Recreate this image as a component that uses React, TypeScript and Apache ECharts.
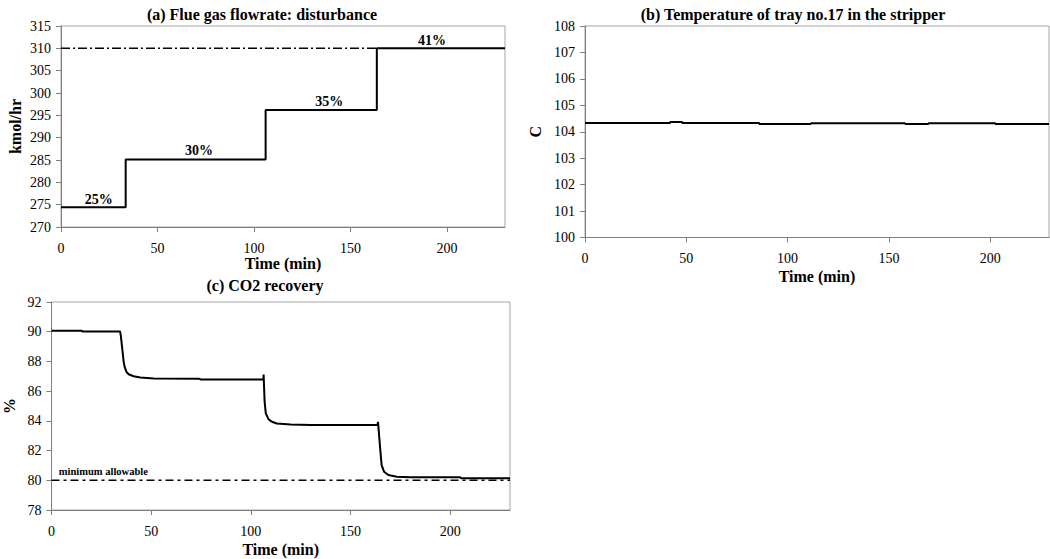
import React, { useEffect, useRef } from "react";
import * as echarts from "echarts";

// (a) Flue gas flowrate disturbance (step profile)
const flowTime = [0, 33.5, 106, 163.6, 230];
const flowRate = [274.4, 285.1, 296.2, 310, 310];
const flowLimit = 310;
const flowLimitEnd = 164;
const stepLabels = ["25%", "30%", "35%", "41%"];
const stepLabelX = [19.5, 71.5, 139, 192.2];
const stepLabelY = [276.2, 287.2, 298.1, 311.8];

// (b) Temperature of tray no.17
const tempTime = [0, 42, 48, 86, 111.5, 158, 169.5, 202.5, 229];
const tempVal = [104.33, 104.37, 104.33, 104.29, 104.32, 104.29, 104.32, 104.29, 104.29];

// (c) CO2 recovery
const co2Time = [
  0, 15, 15.5, 34.4, 34.8, 35.4, 36.2, 36.7, 37.6, 38.7, 41.2, 44.6, 51.3, 74, 75, 106.3,
  106.4, 106.9, 107.5, 108.9, 110.6, 113, 120, 130, 163.5, 163.8, 164.8, 165.6, 166.8,
  169, 173.2, 180, 205, 205.5, 230,
];
const co2Val = [
  90.07, 90.07, 90.02, 90.02, 89.7, 88.97, 87.97, 87.63, 87.3, 87.14, 87.0, 86.92, 86.85,
  86.84, 86.78, 86.78, 87.12, 85.3, 84.5, 84.1, 83.94, 83.82, 83.76, 83.72, 83.72, 83.93,
  82.25, 81.02, 80.58, 80.35, 80.24, 80.2, 80.2, 80.14, 80.14,
];
const minAllowable = 80;
const minLabel = "minimum allowable";
const minLabelX = 26;
const minLabelY = 80.62;

const FONT = "Liberation Serif";
const AXIS_GRAY = "#7f7f7f";

function xAxisCfg(gridIndex: number, max: number, nameGap: number) {
  return {
    type: "value",
    gridIndex,
    min: 0,
    max,
    interval: 50,
    name: "Time (min)",
    nameLocation: "middle",
    nameGap,
    nameTextStyle: { fontFamily: FONT, fontWeight: "bold", fontSize: 16, color: "#000" },
    axisLine: { show: true, lineStyle: { color: AXIS_GRAY, width: 1 } },
    axisTick: { show: true, length: 5, lineStyle: { color: AXIS_GRAY } },
    axisLabel: { fontFamily: FONT, fontSize: 14, color: "#000", margin: 14, showMaxLabel: false },
    splitLine: { show: false },
  };
}

function yAxisCfg(
  gridIndex: number,
  min: number,
  max: number,
  interval: number,
  name: string,
  nameGap: number
) {
  return {
    type: "value",
    gridIndex,
    min,
    max,
    interval,
    name,
    nameLocation: "middle",
    nameGap,
    nameTextStyle: { fontFamily: FONT, fontWeight: "bold", fontSize: 16, color: "#000" },
    axisLine: { show: true, lineStyle: { color: AXIS_GRAY, width: 1 } },
    axisTick: { show: true, length: 5, lineStyle: { color: AXIS_GRAY } },
    axisLabel: { fontFamily: FONT, fontSize: 14, color: "#000", margin: 10 },
    splitLine: { show: false },
  };
}

function titleText(text: string, x: number, y: number) {
  return {
    type: "text",
    x,
    y,
    style: {
      text,
      fontFamily: FONT,
      fontWeight: "bold",
      fontSize: 16,
      fill: "#000",
      align: "center",
      verticalAlign: "middle",
    },
  };
}

export default function App() {
  const ref = useRef<HTMLDivElement>(null);

  useEffect(() => {
    if (!ref.current) return;
    const chart = echarts.init(ref.current, undefined, { renderer: "svg" });

    const flowData = flowTime.map((t, i) => [t, flowRate[i]]);
    const tempData = tempTime.map((t, i) => [t, tempVal[i]]);
    const co2Data = co2Time.map((t, i) => [t, co2Val[i]]);
    const labelData = stepLabels.map((n, i) => ({ name: n, value: [stepLabelX[i], stepLabelY[i]] }));

    const labelCfg = (size: number) => ({
      show: true,
      position: "inside",
      formatter: (p: any) => p.name,
      fontFamily: FONT,
      fontWeight: "bold",
      fontSize: size,
      color: "#000",
      opacity: 1,
      textBorderWidth: 0,
    });

    const option = {
      animation: false,
      backgroundColor: "#fff",
      textStyle: { fontFamily: FONT },
      grid: [
        { left: 61, top: 26, width: 444, height: 201, show: true, borderColor: "#a6a6a6", borderWidth: 1 },
        { left: 585, top: 26, width: 464, height: 211.5, show: true, borderColor: "#a6a6a6", borderWidth: 1 },
        { left: 51.5, top: 302, width: 458.5, height: 208, show: true, borderColor: "#a6a6a6", borderWidth: 1 },
      ],
      xAxis: [xAxisCfg(0, 230, 28), xAxisCfg(1, 229, 31), xAxisCfg(2, 230, 31)],
      yAxis: [
        yAxisCfg(0, 270, 315, 5, "kmol/hr", 38),
        yAxisCfg(1, 100, 108, 1, "C", 42),
        yAxisCfg(2, 78, 92, 2, "%", 34),
      ],
      graphic: [
        titleText("(a) Flue gas flowrate: disturbance", 262, 14),
        titleText("(b) Temperature of tray no.17 in the stripper", 793, 14),
        titleText("(c) CO2 recovery", 265, 285),
      ],
      series: [
        {
          type: "line",
          xAxisIndex: 0,
          yAxisIndex: 0,
          data: [
            [0, flowLimit],
            [flowLimitEnd, flowLimit],
          ],
          symbol: "none",
          lineStyle: { color: "#000", width: 1.5, type: [9, 3, 2, 3] },
          z: 1,
        },
        {
          type: "line",
          xAxisIndex: 0,
          yAxisIndex: 0,
          data: flowData,
          step: "end",
          symbol: "none",
          lineStyle: { color: "#000", width: 2 },
          z: 2,
        },
        {
          type: "scatter",
          xAxisIndex: 0,
          yAxisIndex: 0,
          data: labelData,
          symbolSize: 1,
          itemStyle: { color: "transparent", opacity: 1 },
          label: labelCfg(14),
        },
        {
          type: "line",
          xAxisIndex: 1,
          yAxisIndex: 1,
          data: tempData,
          step: "end",
          symbol: "none",
          lineStyle: { color: "#000", width: 2 },
        },
        {
          type: "line",
          xAxisIndex: 2,
          yAxisIndex: 2,
          data: [
            [0, minAllowable],
            [230, minAllowable],
          ],
          symbol: "none",
          lineStyle: { color: "#000", width: 1.5, type: [8, 4, 3, 4] },
          z: 1,
        },
        {
          type: "line",
          xAxisIndex: 2,
          yAxisIndex: 2,
          data: co2Data,
          symbol: "none",
          lineStyle: { color: "#000", width: 2 },
          z: 2,
        },
        {
          type: "scatter",
          xAxisIndex: 2,
          yAxisIndex: 2,
          data: [{ name: minLabel, value: [minLabelX, minLabelY] }],
          symbolSize: 1,
          itemStyle: { color: "transparent", opacity: 1 },
          label: labelCfg(10.5),
        },
      ],
    };

    chart.setOption(option as any);
    return () => chart.dispose();
  }, []);

  return (
    <div
      ref={ref}
      style={{ position: "absolute", left: 0, top: 0, width: 1050, height: 559, background: "#fff" }}
    />
  );
}
